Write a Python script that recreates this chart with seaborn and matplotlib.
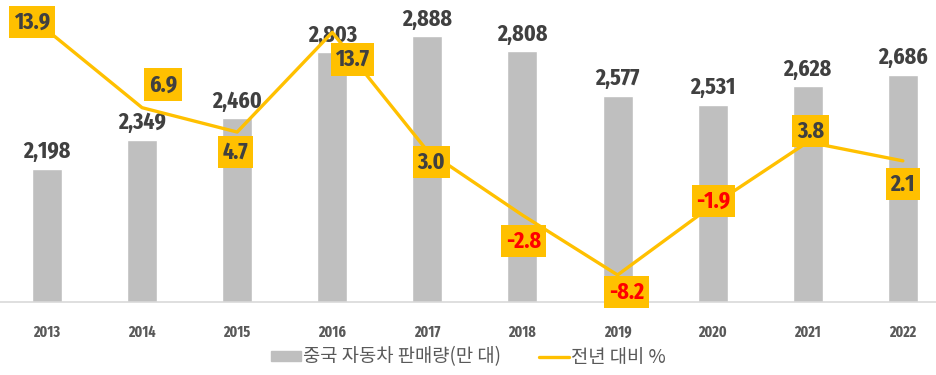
import numpy as np
import pandas as pd
import matplotlib.pyplot as plt
from matplotlib.patches import Patch
from matplotlib.lines import Line2D
import seaborn as sns

sns.set_style('white')
plt.rcParams['font.family'] = ['Noto Sans CJK KR', 'DejaVu Sans']
plt.rcParams['axes.unicode_minus'] = False

years = ['2013', '2014', '2015', '2016', '2017', '2018', '2019', '2020', '2021', '2022']
sales = [2198, 2349, 2460, 2803, 2888, 2808, 2577, 2531, 2628, 2686]
yoy = [13.9, 6.9, 4.7, 13.7, 3.0, -2.8, -8.2, -1.9, 3.8, 2.1]

bar_name = '중국 자동차 판매량(만 대)'
line_name = '전년 대비 %'

# label box offsets (pixels) - placed by hand like the original
box_off = [(-15, 8), (21, 23), (-2, -20), (20, -27), (4, -11),
           (1, -26), (9, -17), (1, 4), (3, 11), (0, -23)]

num_font = ['Fira Sans Extra Condensed', 'Oswald', 'DejaVu Sans']
bar_c = '#BFBFBF'
gold = '#FFC000'

df = pd.DataFrame({'year': years, 'sales': sales, 'yoy': yoy})
df['pos'] = range(len(df))

fig = plt.figure(figsize=(9.37, 3.75), dpi=100)
ax = fig.add_axes([0, 73 / 375, 1, 302 / 375])

sns.barplot(data=df, x='year', y='sales', color=bar_c, width=0.315,
            saturation=1, ax=ax)
ax.set_ylim(1503, 3076)
ax.set_xlim(-0.494, 9.359)
ax.bar_label(ax.containers[0], labels=[f'{v:,}' for v in sales], padding=4,
             fontsize=17, fontweight='bold', color='#404040', family=num_font)

ax.set_xlabel('')
ax.set_ylabel('')
ax.set_yticks([])
ax.tick_params(axis='x', length=0, pad=16)
for t in ax.get_xticklabels():
    t.set_fontsize(11)
    t.set_fontweight('bold')
    t.set_color('#595959')
    t.set_family(num_font)
for s in ['top', 'left', 'right']:
    ax.spines[s].set_visible(False)
ax.spines['bottom'].set_color('#D9D9D9')
ax.spines['bottom'].set_linewidth(1.2)

ax2 = ax.twinx()
sns.lineplot(data=df, x='pos', y='yoy', color=gold, linewidth=2.4, ax=ax2)
ax2.set_ylim(-10.64, 16.62)
ax2.set_yticks([])
ax2.set_ylabel('')
for s in ['top', 'left', 'right', 'bottom']:
    ax2.spines[s].set_visible(False)

for i, v in enumerate(yoy):
    ax2.annotate(f'{v:.1f}', (i, v), xytext=box_off[i], textcoords='offset pixels',
                 ha='center', va='center', fontsize=17, fontweight='bold',
                 family=num_font, color='#FF0000' if v < 0 else '#404040',
                 bbox=dict(boxstyle='square,pad=0.2', fc=gold, ec='none'))

handles = [Patch(color=bar_c, label=bar_name),
           Line2D([0], [0], color=gold, linewidth=2.4, label=line_name)]
fig.legend(handles=handles, loc='center', bbox_to_anchor=(0.5, 18 / 375),
           ncol=2, frameon=False, fontsize=13.5, labelcolor='#595959',
           handlelength=1.6, handleheight=0.45, handletextpad=0.1, columnspacing=2.0)

plt.savefig('out.png', dpi=100)
